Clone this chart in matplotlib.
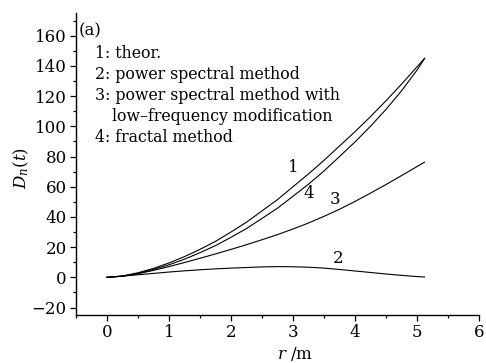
import matplotlib
matplotlib.use("Agg")
import matplotlib.pyplot as plt
from matplotlib.ticker import MultipleLocator

plt.rcParams['font.family'] = 'DejaVu Serif'
plt.rcParams['mathtext.fontset'] = 'dejavuserif'

# r in metres
r = [0, 0.25, 0.5, 0.75, 1, 1.25, 1.5, 1.75, 2, 2.25, 2.5, 2.75,
     3, 3.25, 3.5, 3.75, 4, 4.25, 4.5, 4.75, 5, 5.12]
d_theor = [0, 0.9, 3.0, 5.9, 9.5, 13.7, 18.5, 23.8, 30, 36.5, 44, 51.5,
           60, 68.5, 77.5, 87, 96.5, 106.5, 117, 128, 139.5, 145]
d_psd = [0, 0.8, 1.7, 2.6, 3.5, 4.3, 5.0, 5.6, 6.1, 6.5, 6.9, 7.1,
         7.0, 6.7, 6.1, 5.2, 4.2, 3.2, 2.2, 1.3, 0.5, 0.2]
d_psd_lf = [0, 0.8, 2.4, 4.6, 7.1, 9.8, 12.6, 15.5, 18.5, 21.6, 24.9, 28.3,
            32.0, 36.0, 40.4, 45.1, 50.3, 55.8, 61.5, 67.4, 73.4, 76.3]
d_fractal = [0, 0.7, 2.5, 5.2, 8.3, 12.0, 16.3, 21.0, 26.5, 32.3, 39.0, 45.8,
             53.7, 61.7, 70.5, 80.0, 89.7, 100.1, 111.3, 123.6, 137.3, 145]

legend_lines = ["1: theor.",
                "2: power spectral method",
                "3: power spectral method with",
                "low\u2013frequency modification",
                "4: fractal method"]
legend_x = [-0.19, -0.19, -0.19, 0.09, -0.19]
legend_y = [148, 134, 120.2, 106.2, 92.5]

fig = plt.figure(figsize=(4.86, 3.63), dpi=100)
ax = fig.add_axes([0.156, 0.132, 0.830, 0.832])

for d in (d_theor, d_psd, d_psd_lf, d_fractal):
    ax.plot(r, d, color='black', linewidth=0.8)

# curve numbers
ax.text(3.0, 72.5, "1", fontsize=12, ha='center', va='center')
ax.text(3.25, 55.5, "4", fontsize=12, ha='center', va='center')
ax.text(3.68, 51.5, "3", fontsize=12, ha='center', va='center')
ax.text(3.73, 12.5, "2", fontsize=12, ha='center', va='center')

ax.text(-0.46, 163, "(a)", fontsize=12, ha='left', va='center')
for x, y, s in zip(legend_x, legend_y, legend_lines):
    ax.text(x, y, s, fontsize=11.3, ha='left', va='center')

ax.set_xlim(-0.5, 6)
ax.set_ylim(-25, 175)
ax.xaxis.set_major_locator(MultipleLocator(1))
ax.xaxis.set_minor_locator(MultipleLocator(0.5))
ax.yaxis.set_minor_locator(MultipleLocator(10))
ax.set_yticks(range(-20, 161, 20))
ax.set_yticklabels(['\u221220'] + [str(v) for v in range(0, 161, 20)])
ax.tick_params(which='major', length=4.5, width=0.9, labelsize=12, pad=2)
ax.tick_params(which='minor', length=2.5, width=0.9)
ax.spines['top'].set_visible(False)
ax.spines['right'].set_visible(False)
for s in ('left', 'bottom'):
    ax.spines[s].set_linewidth(1.0)

ax.set_xlabel(r"$r$ /m", fontsize=12, labelpad=0)
ax.xaxis.set_label_coords(0.543, -0.098)
ax.set_ylabel(r"$D_n(t)$", fontsize=12)
ax.yaxis.set_label_coords(-0.11, 0.487)

fig.savefig("out.png", dpi=100)
